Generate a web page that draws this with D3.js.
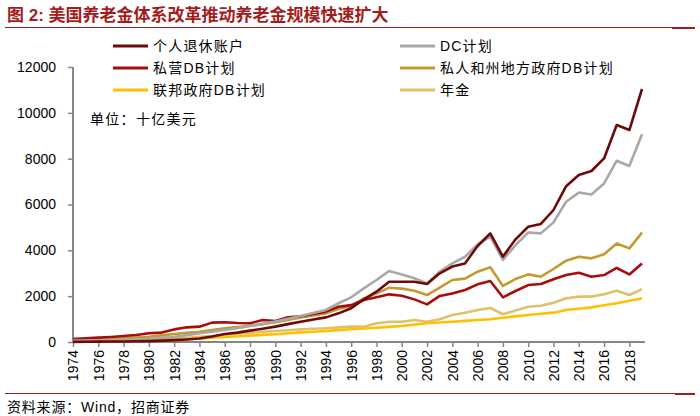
<!DOCTYPE html>
<html lang="zh">
<head>
<meta charset="UTF-8">
<title>美国养老金规模</title>
<script src="https://d3js.org/d3.v7.min.js"></script>
<style>
    body, html { margin: 0; padding: 0; overflow: hidden; background: #fff; }
    svg { display: block; }
    text { font-family: "Liberation Sans", Arial, "Noto Sans CJK SC", sans-serif; fill: #000; }
    .cn { font-family: "Liberation Sans", "Noto Sans CJK SC", sans-serif; }
    .axis path, .axis line { stroke: #868686; }
</style>
</head>
<body>
<svg width="700" height="416"></svg>
<script>
    // years 1974..2019
    const years = d3.range(1974, 2020);
    const xTickYears = d3.range(1974, 2019, 2);
    const yTicks = [0, 2000, 4000, 6000, 8000, 10000, 12000];

    // 单位：十亿美元
    const ira = [5, 10, 15, 20, 25, 30, 40, 60, 80, 110, 150, 240, 350, 410, 495, 580, 670, 780, 885, 980, 1075, 1250,
        1470, 1860, 2195, 2630, 2630, 2630, 2530, 2995, 3290, 3430, 4190, 4740, 3725, 4480, 5030, 5150, 5760, 6800,
        7290, 7460, 8010, 9470, 9250, 11040];
    const dc = [60, 65, 70, 80, 90, 110, 130, 180, 230, 300, 380, 450, 525, 600, 700, 790, 890, 1010, 1135, 1270, 1400, 1690,
        1950, 2340, 2705, 3100, 2950, 2780, 2560, 3070, 3430, 3720, 4260, 4600, 3580, 4230, 4780, 4740, 5220, 6120,
        6520, 6440, 6920, 7910, 7680, 9070];
    const privateDb = [130, 160, 190, 220, 260, 305, 380, 410, 550, 640, 670, 845, 860, 830, 815, 960, 915, 1075, 1120, 1220, 1325, 1540,
        1610, 1830, 1950, 2080, 2020, 1860, 1640, 2010, 2120, 2270, 2515, 2660, 1950, 2225, 2485, 2530, 2735, 2920,
        3025, 2850, 2920, 3230, 2950, 3430];
    const stateLocalDb = [75, 95, 115, 135, 160, 195, 230, 290, 350, 400, 450, 525, 600, 650, 710, 780, 860, 960, 1075, 1160, 1250, 1440,
        1570, 1905, 2120, 2370, 2330, 2240, 2050, 2370, 2705, 2765, 3070, 3260, 2445, 2750, 2950, 2850, 3185, 3550,
        3720, 3650, 3825, 4300, 4085, 4770];
    const federalDb = [30, 38, 45, 52, 60, 72, 85, 100, 120, 140, 160, 190, 220, 250, 280, 310, 340, 380, 420, 450, 480, 520,
        553, 590, 625, 660, 700, 760, 815, 850, 885, 920, 960, 990, 1060, 1120, 1180, 1230, 1280, 1400,
        1450, 1510, 1600, 1690, 1800, 1905];
    const annuities = [40, 50, 55, 65, 70, 80, 90, 110, 140, 180, 230, 260, 300, 370, 400, 440, 480, 510, 550, 580, 600, 640,
        670, 670, 815, 885, 885, 960, 885, 990, 1180, 1280, 1400, 1485, 1210, 1370, 1540, 1585, 1715, 1905,
        1980, 1980, 2080, 2240, 2050, 2310];

    const series = [
        { name: '年金', values: annuities, color: '#dfc06c' },
        { name: '联邦政府DB计划', values: federalDb, color: '#ffc000' },
        { name: '私人和州地方政府DB计划', values: stateLocalDb, color: '#c39a2f' },
        { name: '私营DB计划', values: privateDb, color: '#a80c0c' },
        { name: 'DC计划', values: dc, color: '#a8a8a8' },
        { name: '个人退休账户', values: ira, color: '#6e0a0a' }
    ];
    const byName = {};
    series.forEach(s => byName[s.name] = s);

    const svg = d3.select('svg');

    // title + rule
    svg.append('text')
        .attr('class', 'cn')
        .attr('x', 7).attr('y', 21)
        .attr('font-size', 17).attr('font-weight', 'bold')
        .style('fill', '#a31d1d')
        .text('图 2:  美国养老金体系改革推动养老金规模快速扩大');
    svg.append('line').attr('x1', 5).attr('x2', 695).attr('y1', 27.5).attr('y2', 27.5)
        .attr('stroke', '#a31d1d').attr('stroke-width', 1);
    svg.append('line').attr('x1', 672).attr('x2', 695).attr('y1', 28).attr('y2', 28)
        .attr('stroke', '#a31d1d').attr('stroke-width', 2);

    const x = d3.scaleLinear().domain([1974, 2019]).range([73, 642]);
    const y = d3.scaleLinear().domain([0, 12000]).range([342, 67]);

    // y axis
    const yAxis = svg.append('g').attr('class', 'axis')
        .attr('transform', 'translate(73,0)')
        .call(d3.axisLeft(y).tickValues(yTicks).tickSize(5).tickPadding(12).tickFormat(d3.format('d')));
    yAxis.select('.domain').attr('stroke-width', 2).attr('d', 'M0,67V343');
    yAxis.selectAll('line').attr('stroke-width', 1.5);
    yAxis.selectAll('text').attr('font-size', 14).attr('fill', '#000');

    // x axis
    const xAxis = svg.append('g').attr('class', 'axis')
        .attr('transform', 'translate(0,342)')
        .call(d3.axisBottom(x).tickValues(xTickYears).tickSize(5).tickFormat(d3.format('d')));
    xAxis.select('.domain').attr('stroke-width', 2).attr('d', 'M72,0H645');
    xAxis.selectAll('line').attr('stroke-width', 1.5);
    xAxis.selectAll('text')
        .attr('font-size', 14).attr('fill', '#000')
        .attr('transform', 'rotate(-90)')
        .attr('text-anchor', 'end')
        .attr('x', -8).attr('y', 0).attr('dy', '0.35em');

    // lines
    const line = d3.line()
        .x((d, i) => x(years[i]))
        .y(d => y(d));

    svg.append('g').selectAll('path')
        .data(series)
        .enter().append('path')
        .attr('d', d => line(d.values))
        .attr('fill', 'none')
        .attr('stroke', d => d.color)
        .attr('stroke-width', 2.6)
        .attr('stroke-linejoin', 'round');

    // legend
    const legendItems = [
        { name: '个人退休账户', lx: 113, ly: 46 },
        { name: '私营DB计划', lx: 113, ly: 68 },
        { name: '联邦政府DB计划', lx: 113, ly: 90 },
        { name: 'DC计划', lx: 400, ly: 46 },
        { name: '私人和州地方政府DB计划', lx: 400, ly: 68 },
        { name: '年金', lx: 400, ly: 90 }
    ];
    const legend = svg.append('g').selectAll('g')
        .data(legendItems)
        .enter().append('g')
        .attr('transform', d => `translate(${d.lx},${d.ly})`);
    legend.append('line')
        .attr('x1', 0).attr('x2', 35)
        .attr('stroke', d => byName[d.name].color)
        .attr('stroke-width', 3);
    legend.append('text')
        .attr('class', 'cn')
        .attr('x', 40).attr('dy', '0.36em')
        .attr('font-size', 14)
        .attr('letter-spacing', 1.2)
        .text(d => d.name);

    svg.append('text').attr('class', 'cn')
        .attr('x', 90).attr('y', 124)
        .attr('font-size', 14)
        .attr('letter-spacing', 1.3)
        .text('单位：十亿美元');

    // footer
    svg.append('line').attr('x1', 5).attr('x2', 695).attr('y1', 393.5).attr('y2', 393.5)
        .attr('stroke', '#a31d1d').attr('stroke-width', 1);
    svg.append('line').attr('x1', 675).attr('x2', 695).attr('y1', 394).attr('y2', 394)
        .attr('stroke', '#a31d1d').attr('stroke-width', 2);
    svg.append('text').attr('class', 'cn')
        .attr('x', 7).attr('y', 412)
        .attr('font-size', 14)
        .attr('letter-spacing', 0.8)
        .text('资料来源：Wind，招商证券');
</script>
</body>
</html>
